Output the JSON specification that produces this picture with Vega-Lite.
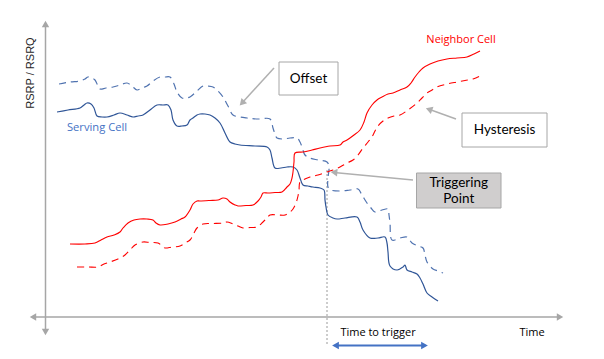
{
  "$schema": "https://vega.github.io/schema/vega-lite/v6.json",
  "width": 604,
  "height": 359,
  "padding": 0,
  "autosize": {"type": "fit", "contains": "padding"},
  "background": "white",
  "config": {"view": {"stroke": null}},
  "datasets": {
    "serving": [
      {"i":0,"x":57,"y":112},{"i":1,"x":68,"y":110},{"i":2,"x":80,"y":108},{"i":3,"x":84,"y":105},{"i":4,"x":87,"y":103},{"i":5,"x":91,"y":104},{"i":6,"x":94,"y":108},{"i":7,"x":97,"y":116},{"i":8,"x":102,"y":117},{"i":9,"x":107,"y":117},{"i":10,"x":114,"y":115},{"i":11,"x":120,"y":113},{"i":12,"x":127,"y":115},{"i":13,"x":133,"y":117},{"i":14,"x":138,"y":116},{"i":15,"x":143,"y":115},{"i":16,"x":150,"y":110},{"i":17,"x":157,"y":105},{"i":18,"x":163,"y":105},{"i":19,"x":168,"y":105},{"i":20,"x":171,"y":110},{"i":21,"x":173,"y":120},{"i":22,"x":177,"y":126},{"i":23,"x":182,"y":126},{"i":24,"x":187,"y":125},{"i":25,"x":190,"y":120},{"i":26,"x":193,"y":118},{"i":27,"x":197,"y":115},{"i":28,"x":200,"y":114},{"i":29,"x":205,"y":114},{"i":30,"x":210,"y":115},{"i":31,"x":215,"y":118},{"i":32,"x":220,"y":123},{"i":33,"x":225,"y":133},{"i":34,"x":230,"y":142},{"i":35,"x":235,"y":144},{"i":36,"x":240,"y":145},{"i":37,"x":255,"y":146},{"i":38,"x":267,"y":147},{"i":39,"x":270,"y":150},{"i":40,"x":272,"y":158},{"i":41,"x":275,"y":168},{"i":42,"x":281,"y":168},{"i":43,"x":287,"y":167},{"i":44,"x":293,"y":167},{"i":45,"x":297,"y":170},{"i":46,"x":300,"y":178},{"i":47,"x":303,"y":185},{"i":48,"x":308,"y":186},{"i":49,"x":313,"y":187},{"i":50,"x":320,"y":188},{"i":51,"x":324,"y":190},{"i":52,"x":325,"y":200},{"i":53,"x":326,"y":207},{"i":54,"x":328,"y":215},{"i":55,"x":333,"y":218},{"i":56,"x":337,"y":219},{"i":57,"x":345,"y":218},{"i":58,"x":357,"y":217},{"i":59,"x":360,"y":222},{"i":60,"x":363,"y":230},{"i":61,"x":370,"y":238},{"i":62,"x":378,"y":238},{"i":63,"x":385,"y":237},{"i":64,"x":387,"y":243},{"i":65,"x":388,"y":252},{"i":66,"x":390,"y":266},{"i":67,"x":397,"y":270},{"i":68,"x":403,"y":267},{"i":69,"x":405,"y":265},{"i":70,"x":407,"y":270},{"i":71,"x":412,"y":272},{"i":72,"x":417,"y":274},{"i":73,"x":420,"y":278},{"i":74,"x":423,"y":284},{"i":75,"x":427,"y":293},{"i":76,"x":432,"y":297},{"i":77,"x":438,"y":301}
    ],
    "servingOffset": [
      {"i":0,"x":59,"y":84},{"i":1,"x":70,"y":82},{"i":2,"x":80,"y":81},{"i":3,"x":85,"y":79},{"i":4,"x":88,"y":77},{"i":5,"x":92,"y":78},{"i":6,"x":95,"y":80},{"i":7,"x":98,"y":86},{"i":8,"x":100,"y":89},{"i":9,"x":106,"y":88},{"i":10,"x":113,"y":87},{"i":11,"x":120,"y":85},{"i":12,"x":127,"y":83},{"i":13,"x":132,"y":86},{"i":14,"x":137,"y":90},{"i":15,"x":142,"y":88},{"i":16,"x":147,"y":86},{"i":17,"x":153,"y":81},{"i":18,"x":160,"y":77},{"i":19,"x":165,"y":77},{"i":20,"x":170,"y":77},{"i":21,"x":174,"y":84},{"i":22,"x":177,"y":92},{"i":23,"x":182,"y":98},{"i":24,"x":186,"y":98},{"i":25,"x":190,"y":97},{"i":26,"x":197,"y":91},{"i":27,"x":203,"y":86},{"i":28,"x":208,"y":86},{"i":29,"x":213,"y":87},{"i":30,"x":218,"y":91},{"i":31,"x":223,"y":97},{"i":32,"x":228,"y":106},{"i":33,"x":233,"y":115},{"i":34,"x":240,"y":117},{"i":35,"x":247,"y":118},{"i":36,"x":258,"y":119},{"i":37,"x":270,"y":119},{"i":38,"x":273,"y":128},{"i":39,"x":275,"y":134},{"i":40,"x":277,"y":138},{"i":41,"x":283,"y":139},{"i":42,"x":290,"y":138},{"i":43,"x":297,"y":138},{"i":44,"x":300,"y":142},{"i":45,"x":302,"y":147},{"i":46,"x":305,"y":155},{"i":47,"x":310,"y":158},{"i":48,"x":318,"y":160},{"i":49,"x":327,"y":162},{"i":50,"x":329,"y":167},{"i":51,"x":328,"y":178},{"i":52,"x":328,"y":187},{"i":53,"x":331,"y":190},{"i":54,"x":340,"y":191},{"i":55,"x":350,"y":190},{"i":56,"x":358,"y":189},{"i":57,"x":362,"y":195},{"i":58,"x":367,"y":203},{"i":59,"x":371,"y":208},{"i":60,"x":375,"y":212},{"i":61,"x":382,"y":210},{"i":62,"x":388,"y":209},{"i":63,"x":389,"y":215},{"i":64,"x":390,"y":223},{"i":65,"x":392,"y":240},{"i":66,"x":400,"y":238},{"i":67,"x":407,"y":237},{"i":68,"x":412,"y":243},{"i":69,"x":418,"y":246},{"i":70,"x":423,"y":248},{"i":71,"x":425,"y":255},{"i":72,"x":427,"y":262},{"i":73,"x":433,"y":269},{"i":74,"x":438,"y":271},{"i":75,"x":443,"y":273}
    ],
    "neighbor": [
      {"i":0,"x":70,"y":244},{"i":1,"x":85,"y":244},{"i":2,"x":95,"y":243},{"i":3,"x":101,"y":240},{"i":4,"x":107,"y":237},{"i":5,"x":114,"y":235},{"i":6,"x":120,"y":232},{"i":7,"x":123,"y":228},{"i":8,"x":128,"y":223},{"i":9,"x":134,"y":220},{"i":10,"x":140,"y":219},{"i":11,"x":147,"y":219},{"i":12,"x":153,"y":220},{"i":13,"x":156,"y":223},{"i":14,"x":160,"y":225},{"i":15,"x":168,"y":224},{"i":16,"x":175,"y":222},{"i":17,"x":181,"y":219},{"i":18,"x":185,"y":217},{"i":19,"x":190,"y":210},{"i":20,"x":193,"y":204},{"i":21,"x":197,"y":201},{"i":22,"x":200,"y":201},{"i":23,"x":210,"y":200.5},{"i":24,"x":218,"y":200},{"i":25,"x":223,"y":198},{"i":26,"x":227,"y":199},{"i":27,"x":230,"y":202},{"i":28,"x":235,"y":205},{"i":29,"x":238,"y":206},{"i":30,"x":246,"y":205.5},{"i":31,"x":253,"y":205},{"i":32,"x":258,"y":201},{"i":33,"x":261,"y":197},{"i":34,"x":263,"y":193},{"i":35,"x":268,"y":193},{"i":36,"x":275,"y":192.5},{"i":37,"x":282,"y":192},{"i":38,"x":287,"y":187},{"i":39,"x":290,"y":184},{"i":40,"x":292,"y":178},{"i":41,"x":293,"y":172},{"i":42,"x":294,"y":162},{"i":43,"x":295,"y":153},{"i":44,"x":303,"y":152},{"i":45,"x":312,"y":150},{"i":46,"x":320,"y":148},{"i":47,"x":330,"y":146},{"i":48,"x":340,"y":145},{"i":49,"x":343,"y":142},{"i":50,"x":347,"y":140},{"i":51,"x":354,"y":135},{"i":52,"x":360,"y":130},{"i":53,"x":364,"y":122},{"i":54,"x":367,"y":113},{"i":55,"x":372,"y":105},{"i":56,"x":377,"y":100},{"i":57,"x":382,"y":97},{"i":58,"x":388,"y":94},{"i":59,"x":393,"y":93},{"i":60,"x":400,"y":90},{"i":61,"x":407,"y":87},{"i":62,"x":411,"y":83},{"i":63,"x":415,"y":77},{"i":64,"x":419,"y":72},{"i":65,"x":423,"y":68},{"i":66,"x":430,"y":64},{"i":67,"x":438,"y":61},{"i":68,"x":447,"y":59},{"i":69,"x":457,"y":58},{"i":70,"x":467,"y":57},{"i":71,"x":474,"y":54},{"i":72,"x":480,"y":51}
    ],
    "neighborHyst": [
      {"i":0,"x":77,"y":267},{"i":1,"x":88,"y":267},{"i":2,"x":98,"y":267},{"i":3,"x":104,"y":264},{"i":4,"x":110,"y":262},{"i":5,"x":118,"y":259},{"i":6,"x":125,"y":255},{"i":7,"x":130,"y":250},{"i":8,"x":135,"y":245},{"i":9,"x":143,"y":242},{"i":10,"x":150,"y":242.5},{"i":11,"x":158,"y":243},{"i":12,"x":162,"y":246},{"i":13,"x":165,"y":248},{"i":14,"x":172,"y":247},{"i":15,"x":180,"y":246},{"i":16,"x":185,"y":243},{"i":17,"x":190,"y":240},{"i":18,"x":194,"y":233},{"i":19,"x":197,"y":228},{"i":20,"x":203,"y":224},{"i":21,"x":212,"y":223.5},{"i":22,"x":223,"y":223},{"i":23,"x":227,"y":222},{"i":24,"x":233,"y":224},{"i":25,"x":238,"y":226},{"i":26,"x":243,"y":228},{"i":27,"x":250,"y":227.5},{"i":28,"x":257,"y":227},{"i":29,"x":263,"y":222},{"i":30,"x":267,"y":218},{"i":31,"x":270,"y":215},{"i":32,"x":278,"y":215},{"i":33,"x":285,"y":215},{"i":34,"x":290,"y":212},{"i":35,"x":293,"y":209},{"i":36,"x":296,"y":203},{"i":37,"x":298,"y":196},{"i":38,"x":299,"y":190},{"i":39,"x":300,"y":182},{"i":40,"x":305,"y":179},{"i":41,"x":310,"y":177},{"i":42,"x":318,"y":175},{"i":43,"x":327,"y":172},{"i":44,"x":333,"y":170},{"i":45,"x":340,"y":167},{"i":46,"x":347,"y":163},{"i":47,"x":353,"y":160},{"i":48,"x":358,"y":155},{"i":49,"x":363,"y":148},{"i":50,"x":368,"y":142},{"i":51,"x":372,"y":137},{"i":52,"x":375,"y":131},{"i":53,"x":378,"y":126},{"i":54,"x":383,"y":121},{"i":55,"x":388,"y":118},{"i":56,"x":394,"y":116},{"i":57,"x":400,"y":115},{"i":58,"x":408,"y":110},{"i":59,"x":417,"y":103},{"i":60,"x":422,"y":98},{"i":61,"x":427,"y":93},{"i":62,"x":432,"y":90},{"i":63,"x":437,"y":87},{"i":64,"x":447,"y":84},{"i":65,"x":457,"y":82},{"i":66,"x":465,"y":80.5},{"i":67,"x":473,"y":79},{"i":68,"x":478,"y":77},{"i":69,"x":483,"y":75}
    ]
  },
  "encoding": {
    "x": {"type": "quantitative", "scale": {"domain": [0, 604]}, "axis": null},
    "y": {"type": "quantitative", "scale": {"domain": [0, 359], "reverse": true}, "axis": null}
  },
  "layer": [
    {
      "data": {"values": [
        {"x": 45.5, "y": 24, "x2": 45.5, "y2": 331},
        {"x": 34, "y": 317, "x2": 559, "y2": 317}
      ]},
      "mark": {"type": "rule", "color": "#A6A6A6", "strokeWidth": 1.5},
      "encoding": {"x": {"field": "x"}, "y": {"field": "y"}, "x2": {"field": "x2"}, "y2": {"field": "y2"}}
    },
    {
      "data": {"values": [{"x": 45.5, "y": 24}]},
      "mark": {"type": "point", "shape": "triangle-up", "filled": true, "color": "#A6A6A6", "size": 55, "opacity": 1},
      "encoding": {"x": {"field": "x"}, "y": {"field": "y"}}
    },
    {
      "data": {"values": [{"x": 45.5, "y": 332}]},
      "mark": {"type": "point", "shape": "triangle-down", "filled": true, "color": "#A6A6A6", "size": 55, "opacity": 1},
      "encoding": {"x": {"field": "x"}, "y": {"field": "y"}}
    },
    {
      "data": {"values": [{"x": 33, "y": 317}]},
      "mark": {"type": "point", "shape": "triangle-left", "filled": true, "color": "#A6A6A6", "size": 55, "opacity": 1},
      "encoding": {"x": {"field": "x"}, "y": {"field": "y"}}
    },
    {
      "data": {"values": [{"x": 560, "y": 317}]},
      "mark": {"type": "point", "shape": "triangle-right", "filled": true, "color": "#A6A6A6", "size": 55, "opacity": 1},
      "encoding": {"x": {"field": "x"}, "y": {"field": "y"}}
    },
    {
      "data": {"values": [{"x": 327, "y": 170, "x2": 327, "y2": 345}]},
      "mark": {"type": "rule", "color": "#9A9A9A", "strokeWidth": 1, "strokeDash": [2, 2]},
      "encoding": {"x": {"field": "x"}, "y": {"field": "y"}, "x2": {"field": "x2"}, "y2": {"field": "y2"}}
    },
    {
      "data": {"name": "servingOffset"},
      "mark": {"type": "line", "color": "#5073B0", "strokeWidth": 1.2, "strokeDash": [7, 5], "interpolate": "catmull-rom"},
      "encoding": {"x": {"field": "x"}, "y": {"field": "y"}, "order": {"field": "i"}}
    },
    {
      "data": {"name": "neighborHyst"},
      "mark": {"type": "line", "color": "#FF0000", "strokeWidth": 1.1, "strokeDash": [7, 5], "interpolate": "catmull-rom"},
      "encoding": {"x": {"field": "x"}, "y": {"field": "y"}, "order": {"field": "i"}}
    },
    {
      "data": {"name": "serving"},
      "mark": {"type": "line", "color": "#2F5597", "strokeWidth": 1.2, "interpolate": "catmull-rom"},
      "encoding": {"x": {"field": "x"}, "y": {"field": "y"}, "order": {"field": "i"}}
    },
    {
      "data": {"name": "neighbor"},
      "mark": {"type": "line", "color": "#FF0000", "strokeWidth": 1.1, "interpolate": "catmull-rom"},
      "encoding": {"x": {"field": "x"}, "y": {"field": "y"}, "order": {"field": "i"}}
    },
    {
      "data": {"values": [
        {"x": 274, "y": 68, "x2": 242, "y2": 103},
        {"x": 456, "y": 119, "x2": 429, "y2": 109.3},
        {"x": 413, "y": 180, "x2": 334, "y2": 172.4}
      ]},
      "mark": {"type": "rule", "color": "#B0B0B0", "strokeWidth": 1.5},
      "encoding": {"x": {"field": "x"}, "y": {"field": "y"}, "x2": {"field": "x2"}, "y2": {"field": "y2"}}
    },
    {
      "data": {"values": [{"x": 242, "y": 103}]},
      "mark": {"type": "point", "shape": "triangle-up", "angle": 223, "filled": true, "color": "#B0B0B0", "size": 60, "opacity": 1},
      "encoding": {"x": {"field": "x"}, "y": {"field": "y"}}
    },
    {
      "data": {"values": [{"x": 429, "y": 109.3}]},
      "mark": {"type": "point", "shape": "triangle-up", "angle": 290, "filled": true, "color": "#B0B0B0", "size": 60, "opacity": 1},
      "encoding": {"x": {"field": "x"}, "y": {"field": "y"}}
    },
    {
      "data": {"values": [{"x": 334, "y": 172.4}]},
      "mark": {"type": "point", "shape": "triangle-up", "angle": 275, "filled": true, "color": "#B0B0B0", "size": 60, "opacity": 1},
      "encoding": {"x": {"field": "x"}, "y": {"field": "y"}}
    },
    {
      "data": {"values": [{"x": 279, "y": 62, "x2": 338, "y2": 95}, {"x": 462, "y": 113, "x2": 547, "y2": 147}]},
      "mark": {"type": "rect", "fill": "white", "stroke": "#A6A6A6", "strokeWidth": 1},
      "encoding": {"x": {"field": "x"}, "y": {"field": "y"}, "x2": {"field": "x2"}, "y2": {"field": "y2"}}
    },
    {
      "data": {"values": [{"x": 416.5, "y": 173, "x2": 501, "y2": 208}]},
      "mark": {"type": "rect", "fill": "#D0CECE", "stroke": "#A6A6A6", "strokeWidth": 1},
      "encoding": {"x": {"field": "x"}, "y": {"field": "y"}, "x2": {"field": "x2"}, "y2": {"field": "y2"}}
    },
    {
      "data": {"values": [{"x": 336, "y": 345.5, "x2": 424, "y2": 345.5}]},
      "mark": {"type": "rule", "color": "#4472C4", "strokeWidth": 2},
      "encoding": {"x": {"field": "x"}, "y": {"field": "y"}, "x2": {"field": "x2"}, "y2": {"field": "y2"}}
    },
    {
      "data": {"values": [{"x": 335.5, "y": 345.5}]},
      "mark": {"type": "point", "shape": "triangle-left", "filled": true, "color": "#4472C4", "size": 60, "opacity": 1},
      "encoding": {"x": {"field": "x"}, "y": {"field": "y"}}
    },
    {
      "data": {"values": [{"x": 424.5, "y": 345.5}]},
      "mark": {"type": "point", "shape": "triangle-right", "filled": true, "color": "#4472C4", "size": 60, "opacity": 1},
      "encoding": {"x": {"field": "x"}, "y": {"field": "y"}}
    },
    {
      "data": {"values": [{"x": 31, "y": 73, "t": "RSRP / RSRQ"}]},
      "mark": {"type": "text", "angle": 270, "font": "Liberation Sans", "fontSize": 11, "color": "#262626", "baseline": "middle", "align": "center"},
      "encoding": {"x": {"field": "x"}, "y": {"field": "y"}, "text": {"field": "t"}}
    },
    {
      "data": {"values": [{"x": 97, "y": 128, "t": "Serving Cell"}]},
      "mark": {"type": "text", "font": "Open Sans", "fontSize": 11.2, "color": "#4472C4", "baseline": "middle", "align": "center"},
      "encoding": {"x": {"field": "x"}, "y": {"field": "y"}, "text": {"field": "t"}}
    },
    {
      "data": {"values": [{"x": 461, "y": 40, "t": "Neighbor Cell"}]},
      "mark": {"type": "text", "font": "Open Sans", "fontSize": 11, "color": "#FF0000", "baseline": "middle", "align": "center"},
      "encoding": {"x": {"field": "x"}, "y": {"field": "y"}, "text": {"field": "t"}}
    },
    {
      "data": {"values": [
        {"x": 378, "y": 332.5, "t": "Time to trigger"},
        {"x": 532, "y": 332.5, "t": "Time"}
      ]},
      "mark": {"type": "text", "font": "Open Sans", "fontSize": 11, "color": "#000000", "baseline": "middle", "align": "center"},
      "encoding": {"x": {"field": "x"}, "y": {"field": "y"}, "text": {"field": "t"}}
    },
    {
      "data": {"values": [
        {"x": 308.5, "y": 79, "t": "Offset"},
        {"x": 504.5, "y": 130, "t": "Hysteresis"},
        {"x": 458.8, "y": 183, "t": "Triggering"},
        {"x": 458.8, "y": 198.5, "t": "Point"}
      ]},
      "mark": {"type": "text", "font": "Lato", "fontSize": 13.5, "color": "#000000", "baseline": "middle", "align": "center"},
      "encoding": {"x": {"field": "x"}, "y": {"field": "y"}, "text": {"field": "t"}}
    }
  ]
}
